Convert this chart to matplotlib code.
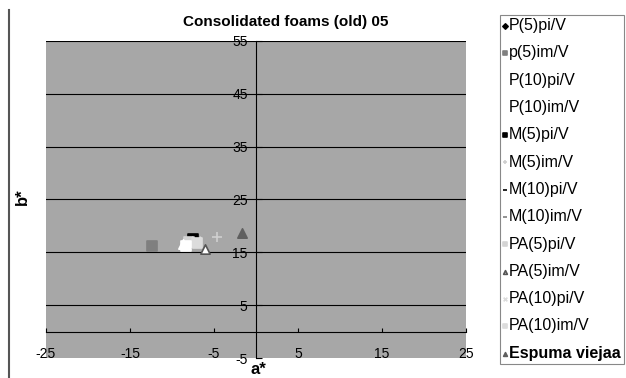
import matplotlib.pyplot as plt
from matplotlib.lines import Line2D

plt.rcParams['font.family'] = ['Liberation Sans', 'DejaVu Sans']
plt.rcParams['axes.unicode_minus'] = False

# series of the chart (a*, b*)
series = ["P(5)pi/V", "p(5)im/V", "P(10)pi/V", "P(10)im/V", "M(5)pi/V",
          "M(5)im/V", "M(10)pi/V", "M(10)im/V", "PA(5)pi/V", "PA(5)im/V",
          "PA(10)pi/V", "PA(10)im/V", "Espuma viejaa"]
a_vals = [-7.7, -12.4, -8.7, -8.3, -7.5, -4.6, -7.9, -7.6, -8.0, -6.1, -7.2, -7.0, -1.7]
b_vals = [17.1, 16.2, 16.6, 16.2, 17.5, 17.9, 17.6, 17.3, 16.9, 15.6, 17.2, 16.8, 18.7]

x_ticks = [-25, -15, -5, 5, 15, 25]
y_ticks = [-5, 5, 15, 25, 35, 45, 55]

# estilo de cada serie
markers = ['D', 's', '^', 's', 's', '+', '_', '_', 's', '^', 'x', 's', '^']
faces = ['black', '#7f7f7f', 'white', 'white', 'black', '#cfcfcf', 'black', '#7f7f7f',
         '#d4d4d4', 'white', '#dcdcdc', '#dcdcdc', '#5f5f5f']
edges = ['black', '#7f7f7f', 'white', 'white', 'black', '#cfcfcf', 'black', '#7f7f7f',
         '#d4d4d4', '#555555', '#dcdcdc', '#dcdcdc', '#5f5f5f']
order = [0, 4, 6, 7, 1, 8, 10, 11, 3, 2, 5, 9, 12]

fig = plt.figure(figsize=(6.26, 3.78), dpi=100)
ax = fig.add_axes([46/626, 1-358/378, 420/626, 317/378])
ax.set_facecolor('#a7a7a7')

handles = [None]*len(series)
for i in order:
    h = ax.scatter([a_vals[i]], [b_vals[i]], marker=markers[i], s=45,
                   facecolor=faces[i], edgecolor=edges[i], linewidths=1.2, zorder=3,
                   label=series[i])
    handles[i] = h

ax.set_xlim(-25, 25)
ax.set_ylim(-5, 55)
ax.set_xticks(x_ticks)
ax.set_yticks(y_ticks)

for y in y_ticks[1:]:
    ax.axhline(y, color='black', lw=0.8, zorder=1)

ax.spines['left'].set_position(('data', 0))
ax.spines['bottom'].set_position(('data', 0))
ax.spines['top'].set_visible(False)
ax.spines['right'].set_visible(False)
ax.tick_params(axis='x', direction='in', length=3, pad=11, labelsize=10)
ax.tick_params(axis='y', direction='in', length=4, pad=6, labelsize=10)

fig.text(286/626, 1-22/378, "Consolidated foams (old) 05", ha='center', va='center',
         fontsize=11, fontweight='bold')
fig.text(258/626, 1-370/378, "a*", ha='center', va='center', fontsize=12, fontweight='bold')
fig.text(22/626, 1-197/378, "b*", ha='center', va='center', fontsize=12,
         fontweight='bold', rotation=90)

# marco izquierdo del gráfico
fig.add_artist(Line2D([9/626, 9/626], [0, 1-10/378], color='#555555', lw=1.5))

leg = fig.legend(handles=handles, labels=series, loc='upper left',
                 bbox_to_anchor=(500/626, 1-15/378), borderaxespad=0, fontsize=11.5,
                 markerscale=0.4, handlelength=0.25, handletextpad=0.1,
                 labelspacing=0.77, borderpad=0.2, fancybox=False,
                 edgecolor='#888888', framealpha=1)
leg.get_frame().set_linewidth(0.8)
for t in leg.get_texts():
    if t.get_text() == "Espuma viejaa":
        t.set_fontweight('bold')

fig.savefig('out.png', dpi=100)
